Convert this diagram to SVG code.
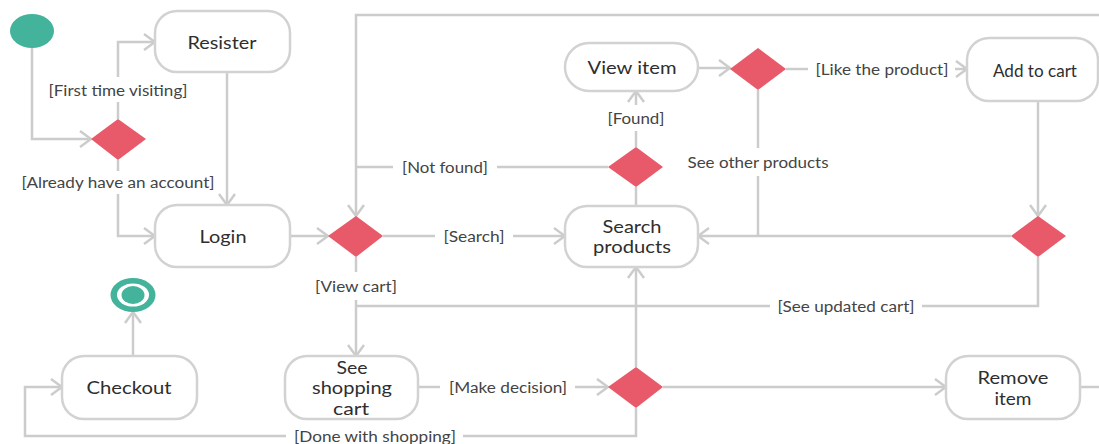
<svg xmlns="http://www.w3.org/2000/svg" width="1099" height="444" viewBox="0 0 1099 444">
<defs>
<marker id="arr" markerUnits="userSpaceOnUse" markerWidth="14" markerHeight="18" viewBox="0 0 14 18" refX="12" refY="9" orient="auto">
<path d="M1,1 L12,9 L1,17" fill="none" stroke="#cccccc" stroke-width="2.5"/>
</marker>
<style>
.node rect{fill:#fff;stroke:#d2d2d2;stroke-width:2.5}
.dec polygon{fill:#e8596a}
.nt{font-family:Lato,"Liberation Sans",sans-serif;font-size:17.5px;fill:#2e2e2e;text-anchor:middle;dominant-baseline:central}
.lt{font-family:Lato,"Liberation Sans",sans-serif;font-size:14.5px;fill:#444;text-anchor:middle;dominant-baseline:central}
#connectors path{fill:none;stroke:#cccccc;stroke-width:2.5}
.teal{fill:#44b39b}
</style>
</defs>
<rect width="1099" height="444" fill="#fff"/>
<g id="connectors">
<path d="M32,48 V139 H91" marker-end="url(#arr)"/>
<path d="M118,119 V102"/>
<path d="M118,77 V42 H155" marker-end="url(#arr)"/>
<path d="M118,160 V171"/>
<path d="M118,194 V236 H155" marker-end="url(#arr)"/>
<path d="M227,72 V205" marker-end="url(#arr)"/>
<path d="M290,236 H328" marker-end="url(#arr)"/>
<path d="M383,236 H435"/>
<path d="M513,236 H565" marker-end="url(#arr)"/>
<path d="M356,257 V272"/>
<path d="M356,300 V356" marker-end="url(#arr)"/>
<path d="M636,206 V187"/>
<path d="M636,147 V131"/>
<path d="M636,105 V91" marker-end="url(#arr)"/>
<path d="M608,167 H497"/>
<path d="M393,167 H356"/>
<path d="M1099,15 H356 V216" marker-end="url(#arr)"/>
<path d="M698,68 H730" marker-end="url(#arr)"/>
<path d="M786,69 H808"/>
<path d="M955,69 H967" marker-end="url(#arr)"/>
<path d="M758,90 V148"/>
<path d="M758,176 V236"/>
<path d="M1011,236 H698" marker-end="url(#arr)"/>
<path d="M1038,101 V216" marker-end="url(#arr)"/>
<path d="M1038,257 V306 H922"/>
<path d="M770,306 H356"/>
<path d="M636,367 V267" marker-end="url(#arr)"/>
<path d="M418,387 H440"/>
<path d="M575,387 H608" marker-end="url(#arr)"/>
<path d="M663,387 H946" marker-end="url(#arr)"/>
<path d="M1080,387 H1099"/>
<path d="M636,408 V436 H463"/>
<path d="M286,436 H25 V387 H62" marker-end="url(#arr)"/>
<path d="M133,356 V312" marker-end="url(#arr)"/>
</g>
<g id="labels">
<text class="lt" x="118" y="90" textLength="139" lengthAdjust="spacingAndGlyphs">[First time visiting]</text>
<text class="lt" x="118" y="182" textLength="193" lengthAdjust="spacingAndGlyphs">[Already have an account]</text>
<text class="lt" x="445" y="167" textLength="86" lengthAdjust="spacingAndGlyphs">[Not found]</text>
<text class="lt" x="636" y="118" textLength="57" lengthAdjust="spacingAndGlyphs">[Found]</text>
<text class="lt" x="474" y="236" textLength="61" lengthAdjust="spacingAndGlyphs">[Search]</text>
<text class="lt" x="758" y="162" textLength="141" lengthAdjust="spacingAndGlyphs">See other products</text>
<text class="lt" x="882" y="69" textLength="133" lengthAdjust="spacingAndGlyphs">[Like the product]</text>
<text class="lt" x="356" y="286" textLength="82" lengthAdjust="spacingAndGlyphs">[View cart]</text>
<text class="lt" x="846" y="306" textLength="137" lengthAdjust="spacingAndGlyphs">[See updated cart]</text>
<text class="lt" x="508" y="387" textLength="118" lengthAdjust="spacingAndGlyphs">[Make decision]</text>
<text class="lt" x="375" y="436" textLength="162" lengthAdjust="spacingAndGlyphs">[Done with shopping]</text>
</g>
<g id="start"><ellipse class="teal" cx="32" cy="31" rx="22" ry="17"/></g>
<g id="end">
<ellipse class="teal" cx="133" cy="295" rx="22.5" ry="17"/>
<ellipse fill="#fff" cx="133" cy="295" rx="16" ry="11.5"/>
<ellipse class="teal" cx="133" cy="295" rx="11.5" ry="9"/>
</g>
<g id="d1" class="dec"><polygon points="91,139 118,119 146,139 118,160"/></g>
<g id="d2" class="dec"><polygon points="328,236 356,216 383,236 356,257"/></g>
<g id="d3" class="dec"><polygon points="608,167 636,147 663,167 636,187"/></g>
<g id="d4" class="dec"><polygon points="730,69 758,48 786,69 758,90"/></g>
<g id="d5" class="dec"><polygon points="1011,236 1038,216 1066,236 1038,257"/></g>
<g id="d6" class="dec"><polygon points="608,387 636,367 663,387 636,408"/></g>
<g id="resister" class="node"><rect x="155" y="11" width="135" height="61" rx="22"/><text class="nt" x="222" y="42" textLength="69" lengthAdjust="spacingAndGlyphs">Resister</text></g>
<g id="login" class="node"><rect x="155" y="205" width="135" height="62" rx="22"/><text class="nt" x="223" y="236" textLength="47" lengthAdjust="spacingAndGlyphs">Login</text></g>
<g id="search" class="node"><rect x="565" y="206" width="133" height="61" rx="22"/><text class="nt" x="632" y="226" textLength="59" lengthAdjust="spacingAndGlyphs">Search</text><text class="nt" x="632" y="246" textLength="78" lengthAdjust="spacingAndGlyphs">products</text></g>
<g id="viewitem" class="node"><rect x="565" y="43" width="133" height="48" rx="24"/><text class="nt" x="632" y="67" textLength="89" lengthAdjust="spacingAndGlyphs">View item</text></g>
<g id="addtocart" class="node"><rect x="967" y="38" width="131" height="63" rx="22"/><text class="nt" x="1035" y="70" textLength="84" lengthAdjust="spacingAndGlyphs">Add to cart</text></g>
<g id="seecart" class="node"><rect x="285" y="356" width="133" height="63" rx="22"/><text class="nt" x="352" y="367" textLength="31" lengthAdjust="spacingAndGlyphs">See</text><text class="nt" x="352" y="387" textLength="80" lengthAdjust="spacingAndGlyphs">shopping</text><text class="nt" x="351" y="408" textLength="36" lengthAdjust="spacingAndGlyphs">cart</text></g>
<g id="remove" class="node"><rect x="946" y="356" width="134" height="63" rx="22"/><text class="nt" x="1013" y="377" textLength="71" lengthAdjust="spacingAndGlyphs">Remove</text><text class="nt" x="1013" y="398" textLength="37" lengthAdjust="spacingAndGlyphs">item</text></g>
<g id="checkout" class="node"><rect x="62" y="356" width="135" height="63" rx="22"/><text class="nt" x="129" y="387" textLength="85" lengthAdjust="spacingAndGlyphs">Checkout</text></g>
</svg>
